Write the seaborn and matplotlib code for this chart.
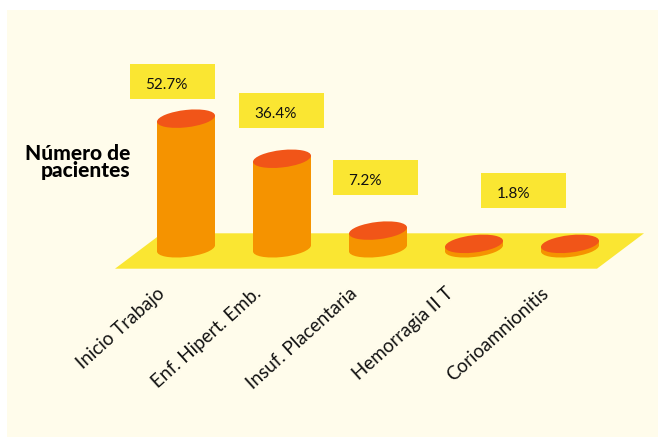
import math
import matplotlib
matplotlib.use("Agg")
import matplotlib.pyplot as plt
from matplotlib.patches import Ellipse, Polygon, Rectangle
from matplotlib.transforms import Affine2D, ScaledTranslation
import seaborn as sns

categories = ["Inicio Trabajo", "Enf. Hipert. Emb.", "Insuf. Placentaria", "Hemorragia II T", "Corioamnionitis"]
values = [52.7, 36.4, 7.2, 1.8, 1.8]
value_labels = ["52.7%", "36.4%", "7.2%", "1.8%"]
y_title = "Número de\npacientes"

W, H = 658, 437
CREAM, YELLOW, ORANGE, RED = "#FFFCEB", "#FAE632", "#F59300", "#F15518"
FONT = "Lato"
TILT = 6.0

sns.set_theme(style="white")
plt.rcParams["font.family"] = [FONT, "DejaVu Sans"]

fig = plt.figure(figsize=(W / 100, H / 100), dpi=100, facecolor="white")

# page-level decoration, in pixel coordinates
bg = fig.add_axes([0, 0, 1, 1])
bg.set_xlim(0, W)
bg.set_ylim(H, 0)
bg.axis("off")
bg.add_patch(Rectangle((7, 10), W - 7, H - 10, fc=CREAM, ec="none"))
bg.add_patch(Polygon([(115, 268.7), (162, 233.3), (644, 233.3), (597, 268.7)], fc=YELLOW, ec="none"))
boxes = [(130, 64), (239, 93), (333, 160), (481, 173)]
for (bx, by), lab in zip(boxes, value_labels):
    bg.add_patch(Rectangle((bx, by), 85, 35, fc=YELLOW, ec="none"))
    bg.text(bx + 15.5, by + 21, lab, ha="left", va="center", fontsize=11, color="#111111")
bg.text(130, 162, y_title, ha="right", va="center", fontsize=15, fontweight="black",
        color="black", linespacing=0.92)

# chart axes: one category = 96 px, one percent = 2.46 px
left, right, base, top = 138, 618, 248.3, 100.7
ax = fig.add_axes([left / W, 1 - base / H, (right - left) / W, (base - top) / H])
sns.barplot(x=categories, y=values, color=ORANGE, saturation=1, width=58 / 96, ax=ax)
ax.set_xlim(-0.5, 4.5)
ax.set_ylim(0, 60)
ax.patch.set_visible(False)
sns.despine(ax=ax, left=True, bottom=True)
ax.set_yticks([])
ax.set_xlabel("")
ax.set_ylabel("")
ax.tick_params(axis="x", length=0, pad=0)
ax.set_xticks(range(len(categories)))
ax.set_xticklabels(categories, rotation=42, ha="right", va="top", rotation_mode="anchor",
                   fontsize=13.5, color="#111111")
offset = ScaledTranslation(-21 / 72, -26 / 72, fig.dpi_scale_trans)
for lab in ax.get_xticklabels():
    lab.set_transform(lab.get_transform() + offset)

# cylinders: shear each bar and cap it with tilted ellipses
slope = math.radians(TILT)
for i, (bar, v) in enumerate(zip(ax.patches, values)):
    cx = ax.transData.transform((i, 0))[0]
    shear = Affine2D().translate(-cx, 0).skew(0, slope).translate(cx, 0)
    bar.set_transform(ax.transData + shear)
    bar.set_clip_on(False)
    bar.set_edgecolor("none")
    for y0, color, z in [(0, ORANGE, 1.5), (v, RED, 3)]:
        tr = Affine2D().skew(0, slope) + ScaledTranslation(i, y0, ax.transData)
        ax.add_patch(Ellipse((0, 0), 58, 17.4, fc=color, ec="none", transform=tr, clip_on=False, zorder=z))

fig.savefig("out.png", dpi=100, facecolor="white")
